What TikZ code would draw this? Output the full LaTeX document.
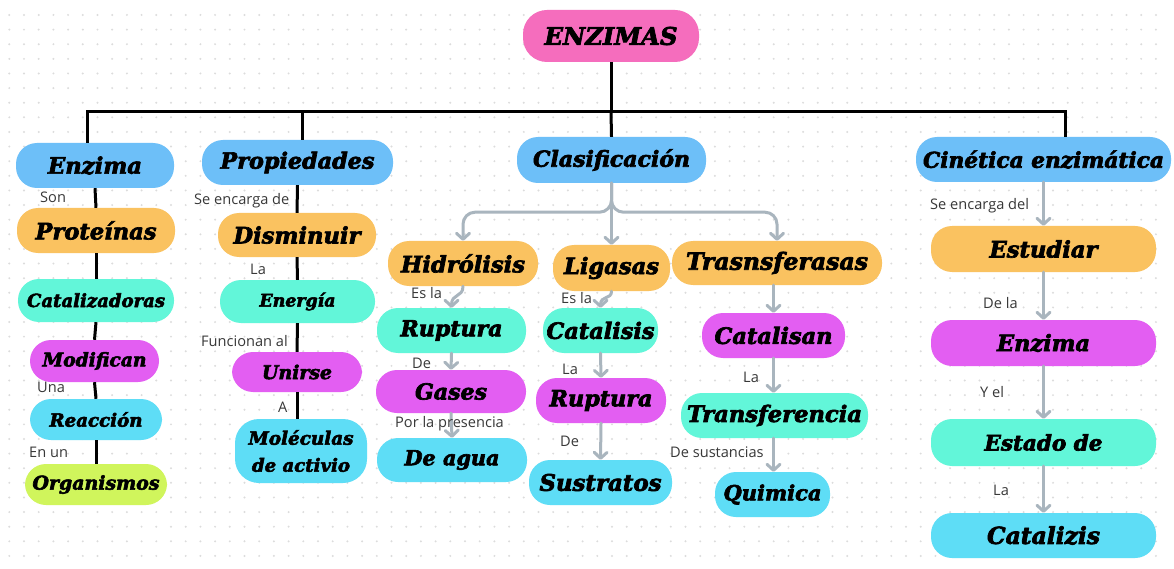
\documentclass[tikz,border=0pt]{standalone}
\usepackage{fontspec}
\usepackage{graphicx}
\usetikzlibrary{arrows.meta}
\newfontfamily\bxfont{DejaVu Serif}
\newfontfamily\lbfont{Open Sans}
\newcommand{\bxt}[2]{\resizebox{#1pt}{!}{\bxfont\bfseries\itshape\addfontfeature{FakeBold=3}#2}}
\definecolor{cpink}{HTML}{F56DBD}
\definecolor{cblue}{HTML}{6DBFF8}
\definecolor{corange}{HTML}{FAC260}
\definecolor{cmint}{HTML}{62F6D9}
\definecolor{cpurple}{HTML}{E35EF2}
\definecolor{ccyan}{HTML}{5EDDF6}
\definecolor{clime}{HTML}{D0F55C}
\definecolor{cgrey}{HTML}{A9B5BE}
\definecolor{cdot}{HTML}{DCDCDC}
\definecolor{clabel}{HTML}{383838}
\tikzset{
  pill/.style={rounded corners=21pt, inner sep=0pt, text=black, anchor=center},
  lbl/.style={anchor=west, inner sep=0pt, font=\lbfont\fontsize{14.6}{17}\selectfont, text=clabel},
  blk/.style={draw=black, line width=3pt},
  garr/.style={draw=cgrey, line width=3pt, line cap=round, line join=round,
    -{Straight Barb[length=6pt,width=13pt,line cap=round,line join=round]}},
}
\begin{document}
\begin{tikzpicture}[x=1pt,y=-1pt]
\useasboundingbox (0,0) rectangle (1174,569);
\fill[white] (0,0) rectangle (1174,569);
\foreach \i in {0,...,78}{\foreach \j in {0,...,37}{\fill[cdot] (9.3+\i*14.7,15+\j*14.62) circle (1.1pt);}}

% nodes
\node[pill, fill=cpink, minimum width=176pt, minimum height=52pt, rounded corners=24pt] (enzimas) at (611,36) {\bxt{133}{ENZIMAS}};
\node[pill, fill=cblue, minimum width=158pt, minimum height=45pt] (enz) at (95,165.5) {\bxt{94}{Enzima}};
\node[pill, fill=cblue, minimum width=191pt, minimum height=45pt] (prop) at (297.5,162.5) {\bxt{154}{Propiedades}};
\node[pill, fill=cblue, minimum width=189pt, minimum height=46pt] (clas) at (611.5,160) {\bxt{157}{Clasificación}};
\node[pill, fill=cblue, minimum width=255pt, minimum height=45pt] (cin) at (1043.5,159.5) {\bxt{241}{Cinética enzimática}};

\node[pill, fill=corange, minimum width=158pt, minimum height=45pt] (prot) at (96,230.5) {\bxt{121}{Proteínas}};
\node[pill, fill=cmint, minimum width=156pt, minimum height=43pt] (cataz) at (96,300.5) {\bxt{138}{Catalizadoras}};
\node[pill, fill=cpurple, minimum width=129pt, minimum height=42pt] (modif) at (94.5,361) {\bxt{104}{Modifican}};
\node[pill, fill=ccyan, minimum width=132pt, minimum height=41pt] (reac) at (96,419.5) {\bxt{93}{Reacción}};
\node[pill, fill=clime, minimum width=142pt, minimum height=41pt] (organ) at (96,484.5) {\bxt{127}{Organismos}};

\node[pill, fill=corange, minimum width=158pt, minimum height=44pt] (dism) at (297,235) {\bxt{127}{Disminuir}};
\node[pill, fill=cmint, minimum width=155pt, minimum height=43pt] (ener) at (297.5,301.5) {\bxt{76}{Energía}};
\node[pill, fill=cpurple, minimum width=130pt, minimum height=40pt] (unir) at (297,372) {\bxt{70}{Unirse}};
\node[pill, fill=ccyan, minimum width=132pt, minimum height=64pt, rounded corners=24pt, align=center, font=\fontsize{20}{27}\selectfont] (molec) at (301,451) {\bxt{105}{Moléculas}\\\bxt{98}{de activio}};

\node[pill, fill=corange, minimum width=150pt, minimum height=45pt] (hidr) at (463,263.5) {\bxt{124}{Hidrólisis}};
\node[pill, fill=corange, minimum width=117pt, minimum height=46pt] (liga) at (611.5,268) {\bxt{95}{Ligasas}};
\node[pill, fill=corange, minimum width=210pt, minimum height=44pt] (trans) at (777,263) {\bxt{182}{Trasnsferasas}};

\node[pill, fill=cmint, minimum width=149pt, minimum height=45pt] (rupt1) at (451.5,330.5) {\bxt{102}{Ruptura}};
\node[pill, fill=cmint, minimum width=115pt, minimum height=45pt] (catls) at (600.5,330.5) {\bxt{108}{Catalisis}};
\node[pill, fill=cpurple, minimum width=143pt, minimum height=45pt] (catsn) at (773.5,335.5) {\bxt{118}{Catalisan}};

\node[pill, fill=cpurple, minimum width=150pt, minimum height=43pt] (gases) at (451,391.5) {\bxt{72}{Gases}};
\node[pill, fill=cpurple, minimum width=130pt, minimum height=45pt] (rupt2) at (601,400.5) {\bxt{103}{Ruptura}};
\node[pill, fill=cmint, minimum width=187pt, minimum height=45pt] (transf) at (774.5,415.5) {\bxt{175}{Transferencia}};

\node[pill, fill=ccyan, minimum width=150pt, minimum height=44pt] (agua) at (452,460) {\bxt{95}{De agua}};
\node[pill, fill=ccyan, minimum width=143pt, minimum height=45pt] (sust) at (600.5,482.5) {\bxt{122}{Sustratos}};
\node[pill, fill=ccyan, minimum width=115pt, minimum height=45pt] (quim) at (772.5,494.5) {\bxt{98}{Quimica}};

\node[pill, fill=corange, minimum width=225pt, minimum height=46pt] (estu) at (1043.5,249) {\bxt{108}{Estudiar}};
\node[pill, fill=cpurple, minimum width=225pt, minimum height=46pt] (enz2) at (1043.5,343) {\bxt{93}{Enzima}};
\node[pill, fill=cmint, minimum width=225pt, minimum height=47pt] (estado) at (1043.5,442.5) {\bxt{118}{Estado de}};
\node[pill, fill=ccyan, minimum width=225pt, minimum height=45pt] (catz) at (1043.5,535.5) {\bxt{113}{Catalizis}};

% black tree connectors
\coordinate (bar) at (611,112);
\coordinate (barL) at (87,112);
\coordinate (barP) at (302,112);
\coordinate (barR) at (1065,112);
\draw[blk] (enzimas.south) -- (bar);
\draw[blk, line cap=rect] (barL) -- (barR);
\draw[blk] (barL) -- (barL |- enz.north);
\draw[blk] (barP) -- (barP |- prop.north);
\draw[blk] (bar) -- (clas.north);
\draw[blk] (barR) -- (barR |- cin.north);

\draw[blk] (enz.south) -- (prot.north);
\draw[blk] (prot.south) -- (cataz.north);
\draw[blk] (cataz.south) -- (modif.north);
\draw[blk] (modif.south) -- (reac.north);
\draw[blk] (reac.south) -- (organ.north);

\draw[blk] (prop.south) -- (dism.north);
\draw[blk] (dism.south) -- (ener.north);
\draw[blk] (ener.south) -- (unir.north);
\draw[blk] (unir.south) -- (unir.south |- molec.north);

% grey arrows
\draw[garr] (clas.south) -- (liga.north);
\draw[garr, rounded corners=12pt] (clas.south) -- ++(0,29) -| (hidr.north);
\draw[garr, rounded corners=12pt] (clas.south) -- ++(0,29) -| (trans.north);

\draw[garr] (hidr.south) .. controls (463,298) and (451.5,293) .. (rupt1.north);
\draw[garr] (rupt1.south) -- (gases.north);
\draw[garr] (gases.south) -- (agua.north);

\draw[garr] (liga.south) .. controls (611.5,300) and (600.5,295) .. (catls.north);
\draw[garr] (catls.south) -- (rupt2.north);
\draw[garr] (rupt2.south) -- (sust.north);

\draw[garr] (catsn.north |- trans.south) -- (catsn.north);
\draw[garr] (catsn.south) -- (catsn.south |- transf.north);
\draw[garr] (catsn.south |- transf.south) -- (catsn.south |- quim.north);

\draw[garr] (cin.south) -- (estu.north);
\draw[garr] (estu.south) -- (enz2.north);
\draw[garr] (enz2.south) -- (estado.north);
\draw[garr] (estado.south) -- (catz.north);

% labels
\node[lbl] (l1) at (40,197) {Son};
\node[lbl] (l2) at (37,387) {Una};
\node[lbl] (l3) at (29,452) {En un};
\node[lbl] (l4) at (194,201) {Se encarga de};
\node[lbl] (l5) at (250,269) {La};
\node[lbl] (l6) at (201,341) {Funcionan al};
\node[lbl] (l7) at (278,407) {A};
\node[lbl] (l8) at (411,293) {Es la};
\node[lbl] (l9) at (412,363) {De};
\node[lbl] (l10) at (395,424) {Por la presencia};
\node[lbl] (l11) at (561,298) {Es la};
\node[lbl] (l12) at (562,369) {La};
\node[lbl] (l13) at (560,441) {De};
\node[lbl] (l14) at (743,377) {La};
\node[lbl] (l15) at (670,452) {De sustancias};
\node[lbl] (l16) at (930,206) {Se encarga del};
\node[lbl] (l17) at (983,303) {De la};
\node[lbl] (l18) at (980,392) {Y el};
\node[lbl] (l19) at (993,490) {La};
\end{tikzpicture}
\end{document}
